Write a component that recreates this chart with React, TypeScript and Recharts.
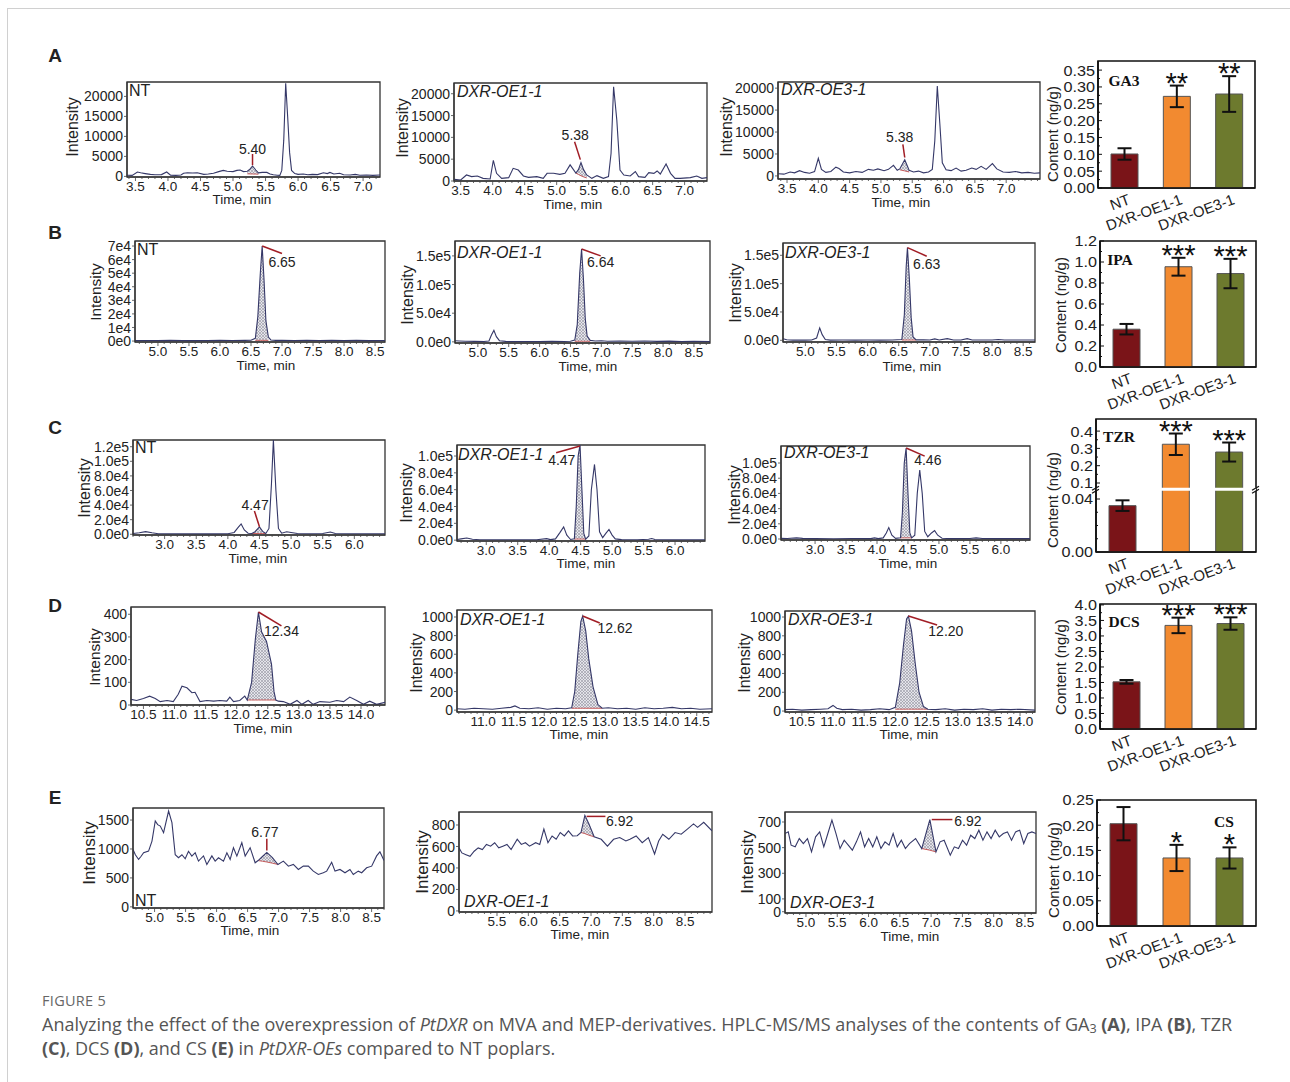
import React from 'react';
import {
  ComposedChart, Line, Area, XAxis, YAxis, ReferenceLine, ReferenceDot, ReferenceArea,
  BarChart, Bar, Cell, ErrorBar, LabelList,
} from 'recharts';

const FONT = '"Liberation Sans", Arial, Helvetica, sans-serif';
const SERIF = '"Liberation Serif", "Times New Roman", serif';
const CAP = '"Open Sans", "Noto Sans", sans-serif';

type Pt = [number, number];
type PkPt = [number, number, number];

// ---------- chromatogram traces: [time, intensity] ----------
const a1Trace: Pt[] = [[3.37,300],[3.45,250],[3.53,1100],[3.58,900],[3.65,700],[3.73,500],[3.8,400],[3.9,450],[3.98,1100],[4.04,300],[4.12,250],[4.2,350],[4.24,800],[4.3,900],[4.38,850],[4.45,900],[4.55,500],[4.62,600],[4.7,800],[4.78,1200],[4.85,1500],[4.91,1300],[5.0,1200],[5.06,1500],[5.11,1600],[5.16,1200],[5.22,1300],[5.26,1800],[5.3,2600],[5.35,1600],[5.39,900],[5.45,1000],[5.52,1000],[5.57,600],[5.62,400],[5.68,300],[5.72,250],[5.75,1500],[5.78,9000],[5.81,23300],[5.84,15000],[5.87,6000],[5.9,1500],[5.95,700],[6.0,500],[6.08,600],[6.15,400],[6.22,500],[6.3,450],[6.39,900],[6.45,700],[6.49,1000],[6.55,600],[6.64,800],[6.7,400],[6.8,350],[6.88,500],[6.95,300],[7.05,350],[7.15,250],[7.26,350]];
const a1Peak: PkPt[] = [[5.22,650,1300],[5.26,620,1800],[5.3,600,2600],[5.35,580,1600],[5.39,560,900]];

const a2Trace: Pt[] = [[3.4,380],[3.5,230],[3.59,1380],[3.67,1000],[3.76,1150],[3.85,610],[3.96,460],[4.01,4750],[4.06,1760],[4.14,610],[4.25,770],[4.32,2900],[4.4,2500],[4.48,1150],[4.56,840],[4.69,1000],[4.79,610],[4.85,1760],[4.95,1760],[5.05,1530],[5.13,1760],[5.21,3700],[5.3,1800],[5.34,2600],[5.38,4200],[5.42,2600],[5.47,1380],[5.55,610],[5.63,1230],[5.73,610],[5.81,1000],[5.85,6300],[5.89,21600],[5.94,14000],[5.99,2500],[6.05,1380],[6.15,1150],[6.23,2160],[6.28,1000],[6.38,840],[6.44,1920],[6.52,1760],[6.57,2300],[6.62,1600],[6.71,3900],[6.78,1760],[6.85,610],[6.93,610],[7.09,770],[7.19,1150],[7.27,610],[7.35,770]];
const a2Peak: PkPt[] = [[5.3,1800,1800],[5.34,1500,2600],[5.38,1200,4200],[5.42,950,2600],[5.47,700,1380]];

const a3Trace: Pt[] = [[3.36,500],[3.45,400],[3.55,900],[3.62,700],[3.7,1200],[3.78,800],[3.86,600],[3.94,1000],[4.0,4000],[4.05,1500],[4.12,800],[4.2,1000],[4.28,2000],[4.33,1700],[4.4,900],[4.5,700],[4.6,1000],[4.7,800],[4.8,1500],[4.88,1300],[4.95,1600],[5.05,1200],[5.12,1500],[5.2,2400],[5.26,1300],[5.3,1600],[5.38,3700],[5.45,1300],[5.52,900],[5.6,1100],[5.68,700],[5.76,900],[5.82,1500],[5.86,8000],[5.9,20500],[5.94,12000],[5.98,3000],[6.04,1400],[6.12,1200],[6.2,1800],[6.28,1100],[6.36,1300],[6.45,1800],[6.52,1500],[6.6,2200],[6.68,1500],[6.78,2800],[6.85,1600],[6.95,900],[7.05,800],[7.15,1000],[7.25,700],[7.35,800],[7.45,600],[7.54,700]];
const a3Peak: PkPt[] = [[5.3,1400,1600],[5.38,1150,3700],[5.45,900,1300]];

const b1Trace: Pt[] = [[4.63,300],[4.8,450],[5.0,300],[5.2,500],[5.4,350],[5.6,450],[5.8,300],[6.0,500],[6.2,400],[6.4,500],[6.5,600],[6.57,2000],[6.61,18000],[6.65,50000],[6.68,70000],[6.71,45000],[6.74,15000],[6.78,3000],[6.82,800],[6.9,500],[7.0,600],[7.2,400],[7.4,500],[7.6,400],[7.8,500],[8.0,400],[8.2,500],[8.4,300],[8.66,400]];
const b1Peak: PkPt[] = [[6.57,500,2000],[6.61,500,18000],[6.65,500,50000],[6.68,500,70000],[6.71,500,45000],[6.74,500,15000],[6.78,500,3000]];

const b2Trace: Pt[] = [[4.63,2000],[4.7,1500],[4.8,1000],[4.95,800],[5.1,700],[5.18,1500],[5.22,12000],[5.26,20000],[5.3,9000],[5.35,2000],[5.45,800],[5.6,600],[5.8,700],[6.0,600],[6.2,800],[6.4,700],[6.5,1000],[6.57,3000],[6.61,30000],[6.65,120000],[6.68,162000],[6.71,110000],[6.74,40000],[6.77,10000],[6.82,2500],[6.9,1500],[7.0,2000],[7.1,1000],[7.3,1500],[7.5,1000],[7.7,1500],[7.9,800],[8.1,1200],[8.3,700],[8.5,1000],[8.76,600]];
const b2Peak: PkPt[] = [[6.57,1000,3000],[6.61,1000,30000],[6.65,1000,120000],[6.68,1000,162000],[6.71,1000,110000],[6.74,1000,40000],[6.77,1000,10000],[6.82,1000,2500]];

const b3Trace: Pt[] = [[4.64,2900],[4.7,1000],[4.8,300],[5.0,300],[5.1,500],[5.18,4000],[5.23,21800],[5.27,10000],[5.32,1500],[5.4,300],[5.6,400],[5.8,300],[6.0,400],[6.2,300],[6.4,500],[6.55,1500],[6.59,45000],[6.62,130000],[6.64,163500],[6.67,110000],[6.7,40000],[6.73,6000],[6.78,800],[6.9,1000],[7.0,500],[7.08,2500],[7.15,600],[7.28,3000],[7.38,600],[7.5,500],[7.6,3000],[7.68,500],[7.8,600],[8.0,400],[8.1,1500],[8.2,400],[8.4,500],[8.69,400]];
const b3Peak: PkPt[] = [[6.55,500,1500],[6.59,500,45000],[6.62,500,130000],[6.64,500,163500],[6.67,500,110000],[6.7,500,40000],[6.73,500,6000],[6.78,500,800]];

const c1Trace: Pt[] = [[2.5,1000],[2.6,2000],[2.7,3600],[2.8,2000],[2.9,800],[3.2,600],[3.5,500],[3.8,600],[4.0,800],[4.1,2500],[4.16,9000],[4.21,14100],[4.26,6000],[4.32,1500],[4.38,1000],[4.43,3500],[4.5,10000],[4.55,4000],[4.6,1000],[4.65,8000],[4.69,70000],[4.72,129000],[4.76,60000],[4.8,8000],[4.85,1500],[4.93,3500],[5.0,2500],[5.1,1000],[5.3,800],[5.5,1000],[5.62,3000],[5.7,1000],[5.9,800],[6.2,700],[6.485,800]];
const c1Peak: PkPt[] = [[4.38,1000,1000],[4.43,1000,3500],[4.5,1000,10000],[4.55,1000,4000],[4.6,1000,1000]];

const c2Trace: Pt[] = [[2.535,800],[2.6,1500],[2.69,2500],[2.78,1000],[2.9,500],[3.2,400],[3.5,500],[3.8,400],[3.96,1800],[4.02,600],[4.1,1500],[4.17,9000],[4.23,15800],[4.28,6000],[4.34,800],[4.4,1500],[4.43,40000],[4.46,100000],[4.49,113000],[4.52,60000],[4.55,8000],[4.58,1200],[4.63,5000],[4.67,60000],[4.72,90000],[4.76,60000],[4.8,10000],[4.85,3000],[4.9,8000],[4.95,12700],[5.0,6000],[5.05,1500],[5.15,600],[5.4,500],[5.58,1000],[5.63,2000],[5.68,800],[5.9,500],[6.2,400],[6.476,500]];
const c2Peak: PkPt[] = [[4.4,1300,1500],[4.43,1300,40000],[4.46,1300,100000],[4.49,1300,113000],[4.52,1300,60000],[4.55,1250,8000],[4.58,1200,1200]];

const c3Trace: Pt[] = [[2.45,800],[2.55,600],[2.7,1500],[2.8,800],[3.0,500],[3.3,400],[3.6,600],[3.9,500],[3.96,1500],[4.02,500],[4.1,1500],[4.15,8000],[4.19,15000],[4.24,5000],[4.3,800],[4.38,1500],[4.41,35000],[4.44,100000],[4.47,119800],[4.5,60000],[4.53,8000],[4.56,1500],[4.61,5000],[4.65,60000],[4.69,90800],[4.73,60000],[4.77,10000],[4.82,3000],[4.88,8000],[4.93,11000],[4.98,5000],[5.05,1000],[5.2,500],[5.5,600],[5.6,1500],[5.7,600],[6.0,500],[6.47,500]];
const c3Peak: PkPt[] = [[4.38,1500,1500],[4.41,1500,35000],[4.44,1500,100000],[4.47,1500,119800],[4.5,1500,60000],[4.53,1500,8000],[4.56,1500,1500]];

const d1Trace: Pt[] = [[10.3,25],[10.39,20],[10.5,29],[10.6,39],[10.69,29],[10.77,15],[10.88,20],[10.98,15],[11.06,47],[11.12,83],[11.2,76],[11.28,54],[11.33,56],[11.41,15],[11.52,20],[11.63,17],[11.73,20],[11.84,17],[11.89,35],[11.95,15],[12.05,20],[12.13,39],[12.17,22],[12.24,100],[12.3,290],[12.35,410],[12.4,323],[12.48,280],[12.56,180],[12.6,60],[12.63,22],[12.67,17],[12.75,15],[12.86,3],[12.97,20],[13.05,3],[13.15,20],[13.23,3],[13.34,15],[13.5,12],[13.61,20],[13.72,15],[13.82,35],[13.93,20],[14.04,3],[14.14,17],[14.25,3],[14.39,12]];
const d1Peak: PkPt[] = [[12.17,22,22],[12.24,22,100],[12.3,22,290],[12.35,22,410],[12.4,22,323],[12.48,22,280],[12.56,22,180],[12.6,22,60],[12.63,22,22]];

const d2Trace: Pt[] = [[10.57,15],[10.7,10],[10.85,20],[11.0,15],[11.15,10],[11.3,20],[11.45,30],[11.52,45],[11.6,20],[11.75,15],[11.9,25],[12.05,10],[12.2,20],[12.35,15],[12.45,25],[12.5,200],[12.55,600],[12.6,950],[12.63,1010],[12.68,850],[12.73,550],[12.8,250],[12.88,60],[12.95,20],[13.05,25],[13.2,15],[13.35,20],[13.5,10],[13.65,25],[13.8,15],[13.95,20],[14.1,30],[14.25,15],[14.4,20],[14.55,10],[14.75,15]];
const d2Peak: PkPt[] = [[12.45,20,25],[12.5,20,200],[12.55,20,600],[12.6,20,950],[12.63,20,1010],[12.68,20,850],[12.73,20,550],[12.8,20,250],[12.88,20,60],[12.95,20,20]];

const d3Trace: Pt[] = [[10.23,15],[10.35,20],[10.5,10],[10.65,15],[10.8,20],[10.92,25],[11.0,60],[11.06,30],[11.15,15],[11.3,20],[11.45,10],[11.6,15],[11.75,25],[11.9,15],[12.0,40],[12.07,300],[12.13,700],[12.18,980],[12.21,1010],[12.26,850],[12.32,500],[12.38,200],[12.45,50],[12.52,20],[12.65,15],[12.8,25],[12.95,10],[13.1,20],[13.25,15],[13.4,25],[13.55,10],[13.7,20],[13.85,15],[14.0,20],[14.24,10]];
const d3Peak: PkPt[] = [[12.0,20,40],[12.07,20,300],[12.13,20,700],[12.18,20,980],[12.21,20,1010],[12.26,20,850],[12.32,20,500],[12.38,20,200],[12.45,20,50],[12.52,20,20]];

const e1Trace: Pt[] = [[4.652,993],[4.69,900],[4.742,819],[4.78,870],[4.823,935],[4.903,964],[4.958,1136],[5.011,1483],[5.05,1420],[5.092,1396],[5.145,1281],[5.226,1656],[5.28,1455],[5.333,900],[5.386,850],[5.441,900],[5.494,830],[5.547,960],[5.601,877],[5.655,935],[5.708,790],[5.789,880],[5.843,732],[5.924,880],[5.977,790],[6.031,848],[6.111,790],[6.166,935],[6.219,819],[6.272,1022],[6.327,877],[6.407,1108],[6.461,877],[6.541,1022],[6.622,762],[6.67,800],[6.74,870],[6.81,940],[6.9,850],[6.99,732],[7.077,790],[7.158,703],[7.238,732],[7.319,646],[7.399,703],[7.48,703],[7.56,617],[7.641,559],[7.721,589],[7.776,617],[7.856,770],[7.91,617],[7.99,646],[8.071,589],[8.151,646],[8.205,559],[8.285,617],[8.34,589],[8.42,675],[8.501,703],[8.581,880],[8.634,950],[8.7,800]];
const e1Peak: PkPt[] = [[6.67,800,800],[6.74,788,870],[6.81,775,940],[6.9,755,850],[6.99,732,732]];

const e2Trace: Pt[] = [[4.894,587],[4.94,540],[5.005,524],[5.07,508],[5.136,556],[5.2,587],[5.267,571],[5.332,619],[5.398,603],[5.463,635],[5.528,587],[5.594,603],[5.659,619],[5.725,571],[5.823,667],[5.888,619],[5.954,635],[6.019,603],[6.117,635],[6.182,619],[6.248,762],[6.313,635],[6.379,698],[6.444,667],[6.509,730],[6.575,698],[6.64,746],[6.706,698],[6.78,700],[6.84,730],[6.902,890],[6.967,810],[7.05,690],[7.163,667],[7.262,603],[7.36,667],[7.458,683],[7.556,651],[7.621,667],[7.72,698],[7.817,635],[7.915,683],[8.014,530],[8.079,651],[8.144,714],[8.242,667],[8.341,730],[8.439,714],[8.537,762],[8.635,810],[8.7,778],[8.798,825],[8.93,746]];
const e2Peak: PkPt[] = [[6.84,730,730],[6.902,720,890],[6.967,705,810],[7.05,690,690]];

const e3Trace: Pt[] = [[4.665,610],[4.717,623],[4.763,519],[4.828,506],[4.893,571],[4.958,532],[5.024,571],[5.089,467],[5.154,584],[5.219,623],[5.285,506],[5.35,610],[5.415,714],[5.48,610],[5.545,493],[5.611,558],[5.676,519],[5.741,480],[5.806,545],[5.872,623],[5.937,506],[6.002,571],[6.067,506],[6.132,584],[6.198,493],[6.263,545],[6.328,519],[6.393,610],[6.459,506],[6.524,558],[6.589,493],[6.654,532],[6.752,571],[6.85,493],[6.98,719],[7.078,467],[7.143,545],[7.208,558],[7.306,441],[7.371,506],[7.437,493],[7.502,558],[7.567,519],[7.632,597],[7.698,571],[7.763,636],[7.828,558],[7.893,623],[7.958,571],[8.024,636],[8.089,584],[8.154,610],[8.219,623],[8.285,558],[8.35,623],[8.415,636],[8.48,532],[8.546,610],[8.611,623],[8.676,610]];
const e3Peak: PkPt[] = [[6.85,493,493],[6.98,480,719],[7.078,467,467]];

// ---------- tick values / labels ----------
const xTicksA = [3.5, 4.0, 4.5, 5.0, 5.5, 6.0, 6.5, 7.0];
const xTicksB = [5.0, 5.5, 6.0, 6.5, 7.0, 7.5, 8.0, 8.5];
const xTicksC = [3.0, 3.5, 4.0, 4.5, 5.0, 5.5, 6.0];
const xTicksD = [10.5, 11.0, 11.5, 12.0, 12.5, 13.0, 13.5, 14.0];
const xTicksD2 = [11.0, 11.5, 12.0, 12.5, 13.0, 13.5, 14.0, 14.5];
const xTicksE = [5.0, 5.5, 6.0, 6.5, 7.0, 7.5, 8.0, 8.5];
const xTicksE2 = [5.5, 6.0, 6.5, 7.0, 7.5, 8.0, 8.5];

const yTicksA = [0, 5000, 10000, 15000, 20000];
const yLabelsA = ['0', '5000', '10000', '15000', '20000'];
const yTicksB1 = [0, 10000, 20000, 30000, 40000, 50000, 60000, 70000];
const yLabelsB1 = ['0e0', '1e4', '2e4', '3e4', '4e4', '5e4', '6e4', '7e4'];
const yTicksB = [0, 50000, 100000, 150000];
const yLabelsB = ['0.0e0', '5.0e4', '1.0e5', '1.5e5'];
const yTicksC1 = [0, 20000, 40000, 60000, 80000, 100000, 120000];
const yLabelsC1 = ['0.0e0', '2.0e4', '4.0e4', '6.0e4', '8.0e4', '1.0e5', '1.2e5'];
const yTicksC = [0, 20000, 40000, 60000, 80000, 100000];
const yLabelsC = ['0.0e0', '2.0e4', '4.0e4', '6.0e4', '8.0e4', '1.0e5'];
const yTicksD1 = [0, 100, 200, 300, 400];
const yLabelsD1 = ['0', '100', '200', '300', '400'];
const yTicksD = [0, 200, 400, 600, 800, 1000];
const yLabelsD = ['0', '200', '400', '600', '800', '1000'];
const yTicksE1 = [0, 500, 1000, 1500];
const yLabelsE1 = ['0', '500', '1000', '1500'];
const yTicksE2 = [0, 200, 400, 600, 800];
const yLabelsE2 = ['0', '200', '400', '600', '800'];
const yTicksE3 = [0, 100, 300, 500, 700];
const yLabelsE3 = ['0', '100', '300', '500', '700'];

// ---------- bar charts ----------
const groups = ['NT', 'DXR-OE1-1', 'DXR-OE3-1'];
const barColors = ['#7a1418', '#f28a30', '#6d7a2e'];
const ga3Mean = [0.101, 0.272, 0.279];
const ga3Err = [0.017, 0.032, 0.053];
const ga3Stars = ['', '**', '**'];
const ipaMean = [0.36, 0.955, 0.89];
const ipaErr = [0.05, 0.085, 0.14];
const ipaStars = ['', '***', '***'];
const tzrMean = [0.035, 0.324, 0.279];
const tzrErr = [0.004, 0.062, 0.055];
const tzrStars = ['', '***', '***'];
const dcsMean = [1.52, 3.34, 3.4];
const dcsErr = [0.06, 0.25, 0.2];
const dcsStars = ['', '***', '***'];
const csMean = [0.203, 0.135, 0.135];
const csErr = [0.033, 0.026, 0.021];
const csStars = ['', '*', '*'];

const ga3Ticks = [0, 0.05, 0.1, 0.15, 0.2, 0.25, 0.3, 0.35];
const ga3Labels = ['0.00', '0.05', '0.10', '0.15', '0.20', '0.25', '0.30', '0.35'];
const ipaTicks = [0, 0.2, 0.4, 0.6, 0.8, 1.0, 1.2];
const ipaLabels = ['0.0', '0.2', '0.4', '0.6', '0.8', '1.0', '1.2'];
const tzrTicks = [0, 0.04, 0.1, 0.2, 0.3, 0.4];
const tzrLabels = ['0.00', '0.04', '0.1', '0.2', '0.3', '0.4'];
const dcsTicks = [0, 0.5, 1.0, 1.5, 2.0, 2.5, 3.0, 3.5, 4.0];
const dcsLabels = ['0.0', '0.5', '1.0', '1.5', '2.0', '2.5', '3.0', '3.5', '4.0'];
const csTicks = [0, 0.05, 0.1, 0.15, 0.2, 0.25];
const csLabels = ['0.00', '0.05', '0.10', '0.15', '0.20', '0.25'];

// broken y axis of the TZR panel: lower part 0-0.047, upper part 0.064-0.466
const tzrAxis = (v: number) => (v <= 0.05 ? v * 1325 : 69 + (v - 0.1) * 173);

const near = (a: number[], v: number) => a.findIndex((m) => Math.abs(m - v) < 1e-6);
const steps = (lo: number, hi: number, step: number) => {
  const out: number[] = [];
  for (let i = Math.ceil(lo / step - 1e-9); i * step <= hi + 1e-9; i++) out.push(+(i * step).toFixed(4));
  return out;
};

interface ChromCfg {
  id: string;
  box: [number, number, number, number];
  xDomain: [number, number];
  yDomain: [number, number];
  xTicks: number[];
  yTicks: number[];
  yLabels: string[];
  trace: Pt[];
  peak: PkPt[];
  marker: [Pt, Pt];
  rt: string;
  rtAt: Pt;
  rtStart?: boolean;
}

function Chrom(c: ChromCfg) {
  const [l, t, r, b] = c.box;
  const YW = 64, MT = 4, MR = 4, XH = 28;
  const W = r - l + YW + MR;
  const H = b - t + MT + XH;
  const line = c.trace.map(([x, y]) => ({ x, y }));
  const pk = c.peak.map(([x, lo, hi]) => ({ x, lo, band: [lo, hi] }));
  const xt = steps(c.xDomain[0], c.xDomain[1], 0.1);
  const pid = `hatch-${c.id}`;
  return (
    <div style={{ position: 'absolute', left: l - YW, top: t - MT }}>
      <ComposedChart width={W} height={H} margin={{ top: MT, right: MR, bottom: 0, left: 0 }}>
        <defs>
          <pattern id={pid} patternUnits="userSpaceOnUse" width={3} height={3}>
            <rect width={3} height={3} fill="#d2d2dc" />
            <path d="M0,0 L3,3 M3,0 L0,3" stroke="#4c4c62" strokeWidth={0.6} />
          </pattern>
        </defs>
        <XAxis
          type="number" dataKey="x" domain={c.xDomain} allowDataOverflow ticks={xt} interval={0}
          tickSize={0} tickMargin={0} tickLine={false} height={XH}
          axisLine={{ stroke: '#333', strokeWidth: 1.2 }}
          tick={(p: any) => {
            const i = near(c.xTicks, p.payload.value);
            return (
              <g>
                <line x1={p.x} x2={p.x} y1={p.y} y2={p.y + (i >= 0 ? 4 : 2)} stroke="#444" strokeWidth={0.8} />
                {i >= 0 && (
                  <text x={p.x} y={p.y + 14} textAnchor="middle" fontSize={13.5} fontFamily={FONT} fill="#222">
                    {c.xTicks[i].toFixed(1)}
                  </text>
                )}
              </g>
            );
          }}
        />
        <YAxis
          type="number" domain={c.yDomain} allowDataOverflow ticks={c.yTicks} interval={0} width={YW}
          tickSize={0} tickMargin={0} tickLine={false} axisLine={{ stroke: '#333', strokeWidth: 1.2 }}
          tick={(p: any) => {
            const i = near(c.yTicks, p.payload.value);
            return (
              <g>
                <line x1={p.x - 3} x2={p.x} y1={p.y} y2={p.y} stroke="#444" strokeWidth={0.8} />
                <text x={p.x - 4} y={p.y} dy="0.36em" textAnchor="end" fontSize={14} fontFamily={FONT} fill="#222">
                  {c.yLabels[i]}
                </text>
              </g>
            );
          }}
        />
        <Area data={pk} dataKey="band" type="linear" stroke="none" fill={`url(#${pid})`} isAnimationActive={false} />
        <Line data={pk} dataKey="lo" type="linear" stroke="#c65a5a" strokeWidth={1} dot={false} isAnimationActive={false} />
        <Line data={line} dataKey="y" type="linear" stroke="#353868" strokeWidth={1.1} dot={false} isAnimationActive={false} />
        <ReferenceArea
          x1={c.xDomain[0]} x2={c.xDomain[1]} y1={c.yDomain[0]} y2={c.yDomain[1]}
          fill="none" stroke="#333" strokeWidth={1.3} ifOverflow="visible"
        />
        <ReferenceLine
          segment={[{ x: c.marker[0][0], y: c.marker[0][1] }, { x: c.marker[1][0], y: c.marker[1][1] }]}
          stroke="#a11d25" strokeWidth={1.5} ifOverflow="visible"
        />
        <ReferenceDot
          x={c.rtAt[0]} y={c.rtAt[1]} r={0} ifOverflow="visible"
          shape={(p: any) => (
            <text x={p.cx} y={p.cy} dy="0.36em" textAnchor={c.rtStart ? 'start' : 'middle'} fontSize={14} fontFamily={FONT} fill="#222">
              {c.rt}
            </text>
          )}
        />
      </ComposedChart>
    </div>
  );
}

interface BarCfg {
  box: [number, number, number, number];
  yMax: number;
  yTicks: number[];
  yLabels: string[];
  yMinor: number[];
  mean: number[];
  err: number[];
  stars: string[];
  toAxis?: (v: number) => number;
  breakAt?: number;
}

function Bars(c: BarCfg) {
  const [l, t, r, b] = c.box;
  const YW = 60, MT = 14, MR = 6, XH = 50;
  const W = r - l + YW + MR;
  const H = b - t + MT + XH;
  const f = c.toAxis ?? ((v: number) => v);
  const ppu = (b - t) / c.yMax;
  const axisTicks = c.toAxis ? c.yTicks.map(f) : c.yTicks;
  const minor = c.toAxis ? c.yMinor.map(f) : c.yMinor;
  const data = groups.map((g, i) => {
    const v = c.mean[i];
    const e = c.err[i];
    return { name: g, v: f(v), e: [f(v) - f(v - e), f(v + e) - f(v)], star: c.stars[i] };
  });
  return (
    <div style={{ position: 'absolute', left: l - YW, top: t - MT }}>
      <BarChart width={W} height={H} data={data} margin={{ top: MT, right: MR, bottom: 0, left: 0 }}>
        <XAxis
          dataKey="name" type="category" interval={0} tickLine={false} tickSize={0} tickMargin={0} height={XH}
          axisLine={{ stroke: '#111', strokeWidth: 1.6 }}
          tick={(p: any) => {
            const x = p.x + 3, y = p.y + 5;
            return (
              <text x={x} y={y} dy="0.75em" textAnchor="end" transform={`rotate(-20 ${x} ${y})`} fontSize={15} fontFamily={FONT} fill="#222">
                {p.payload.value}
              </text>
            );
          }}
        />
        <YAxis
          type="number" domain={[0, c.yMax]} allowDataOverflow ticks={[...axisTicks, ...minor]} interval={0} width={YW}
          tickSize={0} tickMargin={0} tickLine={false} axisLine={{ stroke: '#111', strokeWidth: 1.6 }}
          tick={(p: any) => {
            const i = near(axisTicks, p.payload.value);
            if (i < 0) return <line x1={p.x} x2={p.x + 2} y1={p.y} y2={p.y} stroke="#111" strokeWidth={1} />;
            return (
              <g>
                <line x1={p.x} x2={p.x + 4} y1={p.y} y2={p.y} stroke="#111" strokeWidth={1} />
                <text transform={`translate(${p.x - 3},${p.y}) scale(1.08,1)`} dy="0.36em" textAnchor="end" fontSize={15} fontFamily={FONT} fill="#222">
                  {c.yLabels[i]}
                </text>
              </g>
            );
          }}
        />
        <Bar dataKey="v" barSize={27} stroke="#555" strokeWidth={1} isAnimationActive={false}>
          {data.map((d, i) => <Cell key={d.name} fill={barColors[i]} />)}
          <ErrorBar dataKey="e" width={7} strokeWidth={2} stroke="#111" direction="y" />
          <LabelList
            dataKey="star"
            content={(p: any) => {
              if (!p.value) return null;
              const d = data[p.index];
              const errTop = p.y - d.e[1] * ppu;
              return (
                <text x={p.x + p.width / 2} y={errTop + 7} textAnchor="middle" fontSize={29} fontFamily={FONT} fill="#111">
                  {p.value}
                </text>
              );
            }}
          />
        </Bar>
        <ReferenceArea y1={0} y2={c.yMax} fill="none" stroke="#111" strokeWidth={1.6} ifOverflow="visible" />
        {c.breakAt !== undefined && (
          <ReferenceLine
            y={c.breakAt} stroke="#fff" strokeWidth={3} ifOverflow="visible"
            label={(p: any) => {
              const vb = p.viewBox || {};
              const y0 = vb.y ?? 0;
              const xs = [vb.x ?? 0, (vb.x ?? 0) + (vb.width ?? 0)];
              return (
                <g stroke="#111" strokeWidth={1.2}>
                  {xs.map((x: number) => (
                    <g key={x}>
                      <line x1={x - 4} y1={y0 + 1} x2={x + 3} y2={y0 - 3} />
                      <line x1={x - 4} y1={y0 + 4} x2={x + 3} y2={y0} />
                    </g>
                  ))}
                </g>
              );
            }}
          />
        )}
      </BarChart>
    </div>
  );
}

const chroms: ChromCfg[] = [
  { id: 'a1', box: [127, 82, 380, 177], xDomain: [3.37, 7.26], yDomain: [-150, 23600], xTicks: xTicksA, yTicks: yTicksA, yLabels: yLabelsA, trace: a1Trace, peak: a1Peak, marker: [[5.3, 5600], [5.3, 2800]], rt: '5.40', rtAt: [5.3, 6900] },
  { id: 'a2', box: [454, 83, 707, 181], xDomain: [3.395, 7.35], yDomain: [0, 22460], xTicks: xTicksA, yTicks: yTicksA, yLabels: yLabelsA, trace: a2Trace, peak: a2Peak, marker: [[5.28, 9000], [5.37, 4900]], rt: '5.38', rtAt: [5.29, 10600] },
  { id: 'a3', box: [778, 82, 1040, 179], xDomain: [3.356, 7.54], yDomain: [-700, 21400], xTicks: xTicksA, yTicks: yTicksA, yLabels: yLabelsA, trace: a3Trace, peak: a3Peak, marker: [[5.35, 7200], [5.38, 4200]], rt: '5.38', rtAt: [5.3, 8850] },
  { id: 'b1', box: [135, 241, 385, 342], xDomain: [4.63, 8.66], yDomain: [-700, 73700], xTicks: xTicksB, yTicks: yTicksB1, yLabels: yLabelsB1, trace: b1Trace, peak: b1Peak, marker: [[6.68, 70000], [7.0, 64500]], rt: '6.65', rtAt: [7.0, 58200] },
  { id: 'b2', box: [455, 241, 710, 343], xDomain: [4.63, 8.76], yDomain: [-2000, 176000], xTicks: xTicksB, yTicks: yTicksB, yLabels: yLabelsB, trace: b2Trace, peak: b2Peak, marker: [[6.68, 162000], [6.99, 150000]], rt: '6.64', rtAt: [6.99, 139600] },
  { id: 'b3', box: [783, 243, 1035, 342], xDomain: [4.64, 8.69], yDomain: [-3000, 171700], xTicks: xTicksB, yTicks: yTicksB, yLabels: yLabelsB, trace: b3Trace, peak: b3Peak, marker: [[6.64, 163500], [6.95, 148400]], rt: '6.63', rtAt: [6.95, 135500] },
  { id: 'c1', box: [133, 440, 385, 535], xDomain: [2.5, 6.485], yDomain: [-1000, 129200], xTicks: xTicksC, yTicks: yTicksC1, yLabels: yLabelsC1, trace: c1Trace, peak: c1Peak, marker: [[4.42, 31900], [4.5, 10400]], rt: '4.47', rtAt: [4.43, 40200] },
  { id: 'c2', box: [457, 445, 705, 541], xDomain: [2.535, 6.476], yDomain: [-1000, 113100], xTicks: xTicksC, yTicks: yTicksC, yLabels: yLabelsC, trace: c2Trace, peak: c2Peak, marker: [[4.11, 104000], [4.49, 112000]], rt: '4.47', rtAt: [4.2, 95200] },
  { id: 'c3', box: [781, 446, 1030, 540], xDomain: [2.45, 6.47], yDomain: [-1300, 122400], xTicks: xTicksC, yTicks: yTicksC, yLabels: yLabelsC, trace: c3Trace, peak: c3Peak, marker: [[4.47, 119800], [4.77, 109000]], rt: '4.46', rtAt: [4.82, 104000] },
  { id: 'd1', box: [131, 607, 385, 705], xDomain: [10.3, 14.386], yDomain: [0, 432], xTicks: xTicksD, yTicks: yTicksD1, yLabels: yLabelsD1, trace: d1Trace, peak: d1Peak, marker: [[12.35, 410], [12.72, 349]], rt: '12.34', rtAt: [12.72, 326] },
  { id: 'd2', box: [457, 610, 712, 712], xDomain: [10.57, 14.75], yDomain: [-20, 1075], xTicks: xTicksD2, yTicks: yTicksD, yLabels: yLabelsD, trace: d2Trace, peak: d2Peak, marker: [[12.63, 1010], [12.91, 935]], rt: '12.62', rtAt: [13.16, 880] },
  { id: 'd3', box: [785, 611, 1035, 712], xDomain: [10.23, 14.24], yDomain: [-10, 1064], xTicks: xTicksD, yTicks: yTicksD, yLabels: yLabelsD, trace: d3Trace, peak: d3Peak, marker: [[12.21, 1010], [12.67, 915]], rt: '12.20', rtAt: [12.81, 851] },
  { id: 'e1', box: [133, 808, 384, 908], xDomain: [4.652, 8.7], yDomain: [-20, 1708], xTicks: xTicksE, yTicks: yTicksE1, yLabels: yLabelsE1, trace: e1Trace, peak: e1Peak, marker: [[6.81, 1178], [6.81, 975]], rt: '6.77', rtAt: [6.78, 1292] },
  { id: 'e2', box: [459, 812, 712, 912], xDomain: [4.894, 8.93], yDomain: [-10, 921], xTicks: xTicksE2, yTicks: yTicksE2, yLabels: yLabelsE2, trace: e2Trace, peak: e2Peak, marker: [[6.93, 880], [7.23, 880]], rt: '6.92', rtAt: [7.24, 838], rtStart: true },
  { id: 'e3', box: [785, 812, 1036, 913], xDomain: [4.665, 8.676], yDomain: [-10, 778], xTicks: xTicksE, yTicks: yTicksE3, yLabels: yLabelsE3, trace: e3Trace, peak: e3Peak, marker: [[7.01, 719], [7.34, 719]], rt: '6.92', rtAt: [7.37, 706], rtStart: true },
];

const bars: BarCfg[] = [
  { box: [1098, 61, 1255, 188], yMax: 0.377, yTicks: ga3Ticks, yLabels: ga3Labels, yMinor: [0.025, 0.075, 0.125, 0.175, 0.225, 0.275, 0.325], mean: ga3Mean, err: ga3Err, stars: ga3Stars },
  { box: [1100, 241, 1256, 367], yMax: 1.2, yTicks: ipaTicks, yLabels: ipaLabels, yMinor: [0.1, 0.3, 0.5, 0.7, 0.9, 1.1], mean: ipaMean, err: ipaErr, stars: ipaStars },
  { box: [1096, 419, 1256, 552], yMax: 133, yTicks: tzrTicks, yLabels: tzrLabels, yMinor: [0.01, 0.02, 0.03, 0.15, 0.25, 0.35], mean: tzrMean, err: tzrErr, stars: tzrStars, toAxis: tzrAxis, breakAt: 62.7 },
  { box: [1100, 604, 1256, 729], yMax: 4.03, yTicks: dcsTicks, yLabels: dcsLabels, yMinor: [0.25, 0.75, 1.25, 1.75, 2.25, 2.75, 3.25, 3.75], mean: dcsMean, err: dcsErr, stars: dcsStars },
  { box: [1097, 800, 1256, 926], yMax: 0.25, yTicks: csTicks, yLabels: csLabels, yMinor: [0.025, 0.075, 0.125, 0.175, 0.225], mean: csMean, err: csErr, stars: csStars },
];

// text placements (centre x, centre y, font size)
const intensityPos: [number, number, number][] = [
  [73, 127, 16], [403, 128, 16], [727, 127, 16],
  [96, 292, 15.5], [408, 295, 16], [736, 293, 16],
  [85, 488, 16], [407, 493, 16], [735, 495, 16],
  [95, 657, 15.5], [417, 663, 16], [745, 663, 16],
  [89, 853, 17], [422, 862, 17], [747, 862, 17],
];
const timePos: Pt[] = [
  [242, 200], [573, 205], [901, 203],
  [266, 366], [588, 367], [912, 367],
  [258, 559], [586, 564], [908, 564],
  [263, 729], [579, 735], [909, 735],
  [250, 931], [580, 935], [910, 937],
];
const names: [string, number, number][] = [
  ['NT', 129, 91], ['DXR-OE1-1', 457, 92], ['DXR-OE3-1', 781, 90],
  ['NT', 137, 250], ['DXR-OE1-1', 457, 253], ['DXR-OE3-1', 785, 253],
  ['NT', 135, 448], ['DXR-OE1-1', 458, 455], ['DXR-OE3-1', 784, 453],
  ['DXR-OE1-1', 460, 620], ['DXR-OE3-1', 788, 620],
  ['NT', 135, 901], ['DXR-OE1-1', 464, 902], ['DXR-OE3-1', 790, 903],
];
const contentPos: Pt[] = [[1052, 134], [1060, 305], [1052, 500], [1060, 667], [1053, 870]];
const barTitles: [string, number, number][] = [['GA3', 1124, 81], ['IPA', 1120, 260], ['TZR', 1119, 437], ['DCS', 1124, 622], ['CS', 1224, 822]];
const rowLetters: [string, number][] = [['A', 55], ['B', 232], ['C', 427], ['D', 605], ['E', 797]];

const abs = (x: number, y: number, extra: React.CSSProperties = {}): React.CSSProperties => ({
  position: 'absolute', left: x, top: y, whiteSpace: 'nowrap', lineHeight: 1, ...extra,
});

export default function App() {
  return (
    <div style={{ position: 'absolute', left: 0, top: 0, width: 1290, height: 1082, background: '#fff', overflow: 'hidden', fontFamily: FONT, color: '#222' }}>
      <div style={{ position: 'absolute', left: 8, top: 8, width: 1282, height: 1, background: '#d0d0d0' }} />
      <div style={{ position: 'absolute', left: 7, top: 8, width: 1, height: 1074, background: '#d0d0d0' }} />

      {chroms.map((c) => <Chrom key={c.id} {...c} />)}
      {bars.map((c, i) => <Bars key={i} {...c} />)}

      {rowLetters.map(([s, y]) => (
        <div key={s} style={abs(55, y, { transform: 'translate(-50%,-50%)', fontSize: 19, fontWeight: 700 })}>{s}</div>
      ))}
      {intensityPos.map(([x, y, s], i) => (
        <div key={i} style={abs(x, y, { transform: 'translate(-50%,-50%) rotate(-90deg)', fontSize: s })}>Intensity</div>
      ))}
      {timePos.map(([x, y], i) => (
        <div key={i} style={abs(x, y, { transform: 'translate(-50%,-50%)', fontSize: 13.5 })}>Time, min</div>
      ))}
      {names.map(([s, x, y], i) => (
        <div key={i} style={abs(x, y, { transform: 'translate(0,-50%)', fontSize: 16, fontStyle: s === 'NT' ? 'normal' : 'italic' })}>{s}</div>
      ))}
      {contentPos.map(([x, y], i) => (
        <div key={i} style={abs(x, y, { transform: 'translate(-50%,-50%) rotate(-90deg)', fontSize: 15 })}>Content (ng/g)</div>
      ))}
      {barTitles.map(([s, x, y]) => (
        <div key={s} style={abs(x, y, { transform: 'translate(-50%,-50%)', fontSize: 15.5, fontWeight: 700, fontFamily: SERIF, color: '#111' })}>{s}</div>
      ))}

      <div style={abs(42, 1001, { transform: 'translate(0,-50%)', fontFamily: CAP, fontSize: 14.5, color: '#666', letterSpacing: 0.3 })}>FIGURE 5</div>
      <div style={{ position: 'absolute', left: 42, top: 1012, fontFamily: CAP, fontSize: 18, lineHeight: '24px', color: '#555', whiteSpace: 'nowrap' }}>
        Analyzing the effect of the overexpression of <i>PtDXR</i> on MVA and MEP-derivatives. HPLC-MS/MS analyses of the contents of GA
        <span style={{ fontSize: '0.7em', verticalAlign: '-0.15em', lineHeight: 0 }}>3</span> <b>(A)</b>, IPA <b>(B)</b>, TZR
        <br />
        <b>(C)</b>, DCS <b>(D)</b>, and CS <b>(E)</b> in <i>PtDXR-OEs</i> compared to NT poplars.
      </div>
    </div>
  );
}
